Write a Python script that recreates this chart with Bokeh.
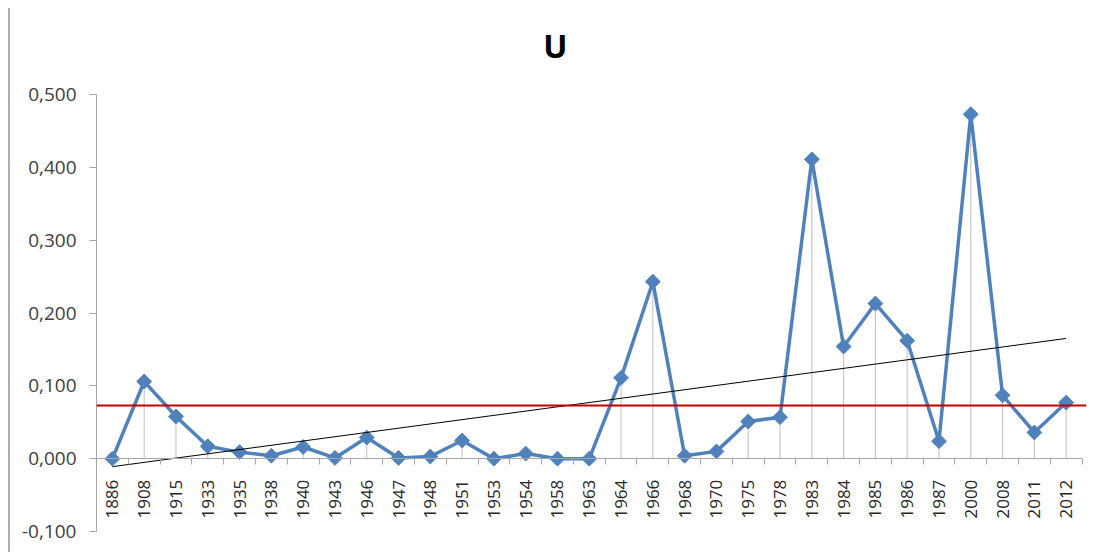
import numpy as np
from bokeh.plotting import figure
from bokeh.models import Range1d, FixedTicker, Span, ColumnDataSource, Label
from bokeh.embed import file_html
from bokeh.resources import INLINE

years = ["1886", "1908", "1915", "1933", "1935", "1938", "1940", "1943", "1946", "1947",
         "1948", "1951", "1953", "1954", "1958", "1963", "1964", "1966", "1968", "1970",
         "1975", "1978", "1983", "1984", "1985", "1986", "1987", "2000", "2008", "2011", "2012"]
u_values = [0.000, 0.106, 0.058, 0.017, 0.009, 0.004, 0.016, 0.001, 0.029, 0.001,
            0.003, 0.025, 0.000, 0.007, 0.000, 0.000, 0.111, 0.243, 0.004, 0.010,
            0.051, 0.057, 0.411, 0.154, 0.213, 0.162, 0.024, 0.473, 0.087, 0.036, 0.077]
threshold = 0.073
title_text = "U"
y_ticks = [-0.1, 0.0, 0.1, 0.2, 0.3, 0.4, 0.5]
y_tick_labels = ["-0,100", "0,000", "0,100", "0,200", "0,300", "0,400", "0,500"]

idx = np.arange(len(years))
vals = np.array(u_values)
slope, intercept = np.polyfit(idx, vals, 1)
trend_x = [idx[0], idx[-1]]
trend_y = [intercept + slope * idx[0], intercept + slope * idx[-1]]

FONT = "Open Sans"
BLUE = "#4F81BD"

# the frame reaches up to the top so the title can sit inside it; the y axis line stops at 0.5
p = figure(width=1093, height=552, output_backend="svg", toolbar_location=None,
           x_range=Range1d(-0.5, len(years) - 0.36), y_range=Range1d(-0.1, 0.6195),
           min_border_left=96, min_border_right=7, min_border_top=7, min_border_bottom=21)
p.background_fill_color = "white"
p.border_fill_color = None
p.outline_line_color = None
p.grid.visible = False
# white page with the thin grey frame edge on the left
p.styles = {"background": "linear-gradient(#ADADAD, #ADADAD) no-repeat 8px 8px / 2px calc(100% - 8px), white"}

p.add_layout(Label(x=13.93, y=0.5673, text=title_text, text_font=FONT, text_font_size="32px",
                   text_font_style="bold", text_color="black", text_align="center",
                   text_baseline="alphabetic"))

# x axis at y = 0
xa = p.xaxis[0]
xa.fixed_location = 0
xa.bounds = (-0.5, len(years) - 0.5)
xa.ticker = FixedTicker(ticks=list(idx), minor_ticks=list(np.arange(-0.5, len(years), 1.0)))
xa.major_label_overrides = {int(i): y for i, y in zip(idx, years)}
xa.major_label_orientation = np.pi / 2
xa.major_tick_out = 0
xa.major_tick_in = 0
xa.minor_tick_out = 6
xa.minor_tick_in = 0
xa.minor_tick_line_color = "#A6A6A6"
xa.axis_line_color = "#A6A6A6"
xa.major_label_standoff = 15
xa.major_label_text_font = FONT
xa.major_label_text_font_size = "17px"
xa.major_label_text_color = "#262626"

ya = p.yaxis[0]
ya.bounds = (-0.1, 0.5)
ya.ticker = FixedTicker(ticks=y_ticks)
ya.major_label_overrides = {t: l for t, l in zip(y_ticks, y_tick_labels)}
ya.major_tick_out = 7
ya.major_tick_in = 0
ya.minor_tick_out = 0
ya.minor_tick_in = 0
ya.major_tick_line_color = "#A6A6A6"
ya.axis_line_color = "#A6A6A6"
ya.major_label_standoff = 13
ya.major_label_text_font = FONT
ya.major_label_text_font_size = "19px"
ya.major_label_text_color = "#404040"

src = ColumnDataSource(dict(x=idx, y=vals, y0=np.zeros(len(vals))))
# drop lines
p.segment(x0="x", y0="y0", x1="x", y1="y", source=src, line_color="#BFBFBF", line_width=1)
# threshold line
p.add_layout(Span(location=threshold, dimension="width", line_color="#C00000", line_width=2))
# series
p.line("x", "y", source=src, line_color=BLUE, line_width=3.5)
p.scatter("x", "y", source=src, marker="square", angle=np.pi / 4, size=10.5,
          fill_color=BLUE, line_color=BLUE)
# trend line
p.line(trend_x, trend_y, line_color="black", line_width=1)

open("out.html", "w").write(file_html(p, INLINE))
